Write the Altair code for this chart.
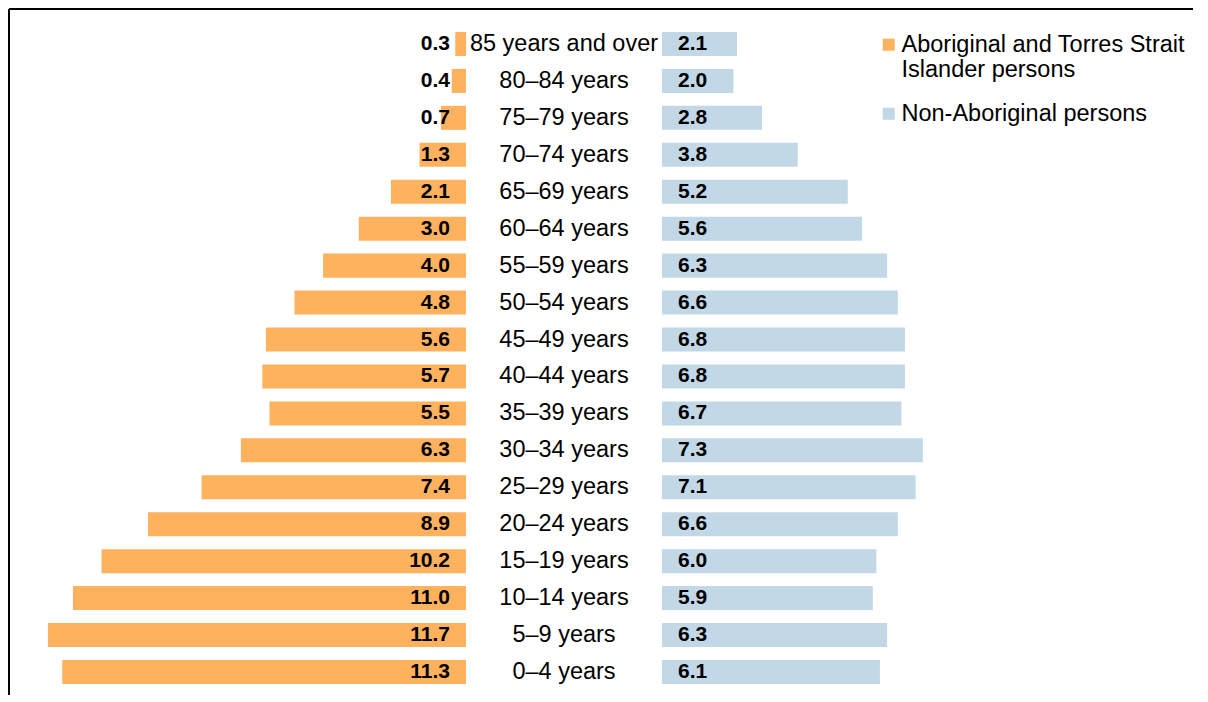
import altair as alt
import pandas as pd

ages = ["85 years and over", "80–84 years", "75–79 years", "70–74 years", "65–69 years",
        "60–64 years", "55–59 years", "50–54 years", "45–49 years", "40–44 years",
        "35–39 years", "30–34 years", "25–29 years", "20–24 years", "15–19 years",
        "10–14 years", "5–9 years", "0–4 years"]
indigenous = [0.3, 0.4, 0.7, 1.3, 2.1, 3.0, 4.0, 4.8, 5.6, 5.7, 5.5, 6.3, 7.4, 8.9, 10.2, 11.0, 11.7, 11.3]
non_indigenous = [2.1, 2.0, 2.8, 3.8, 5.2, 5.6, 6.3, 6.6, 6.8, 6.8, 6.7, 7.3, 7.1, 6.6, 6.0, 5.9, 6.3, 6.1]
groups = ["Aboriginal and Torres Strait Islander persons", "Non-Aboriginal persons"]
colors = ["#FFB25E", "#C3D8E7"]

df = pd.DataFrame({"age": ages, "indig": indigenous, "non": non_indigenous})
df["g1"] = groups[0]
df["g2"] = groups[1]
frame_df = pd.DataFrame({"k": [0]})

PX = 35.73
LW, MW, RW, H = 457, 196, 531, 686
FONT = "Liberation Sans"

yscale = alt.Scale(type="band", domain=ages, paddingInner=0.35, paddingOuter=0.46, align=0.676)
y = alt.Y("age:N", sort=ages, scale=yscale, axis=None)
color_scale = alt.Scale(domain=groups, range=colors)

legend = alt.Legend(
    orient="none", legendX=864, legendY=24, title=None,
    symbolType="square", symbolSize=144, symbolStrokeWidth=0, symbolOffset=4,
    labelFont=FONT, labelFontSize=23.5, labelLimit=0, labelColor="black",
    labelBaseline="middle", labelOffset=1, padding=0, rowPadding=19,
    labelExpr="datum.label == 'Aboriginal and Torres Strait Islander persons' ? ['Aboriginal and Torres Strait', 'Islander persons'] : datum.label",
)

def top_rule(w):
    return alt.Chart(frame_df).mark_rule(color="black", strokeWidth=2).encode(
        x=alt.value(0), x2=alt.value(w), y=alt.value(0))

xl = alt.X("indig:Q", scale=alt.Scale(domain=[0, LW / PX], reverse=True, nice=False, zero=True), axis=None)
left_bars = alt.Chart(df).mark_bar().encode(
    x=xl, y=y, color=alt.Color("g1:N", scale=color_scale, legend=legend))
left_text = alt.Chart(df).mark_text(align="right", baseline="middle", dx=-16, font=FONT,
                                    fontSize=21, fontWeight="bold", color="black").encode(
    x=alt.datum(0), y=y, text=alt.Text("indig:Q", format=".1f"))
left_line = alt.Chart(frame_df).mark_rule(color="black", strokeWidth=2).encode(
    x=alt.value(0), y=alt.value(0), y2=alt.value(H))
left = alt.layer(left_bars, left_text, top_rule(LW), left_line).properties(width=LW, height=H)

mid_text = alt.Chart(df).mark_text(align="center", baseline="middle", font=FONT,
                                   fontSize=23.5, color="black").encode(
    x=alt.value(MW / 2), y=y, text="age:N")
mid = alt.layer(mid_text, top_rule(MW)).properties(width=MW, height=H)

xr = alt.X("non:Q", scale=alt.Scale(domain=[0, RW / PX], nice=False, zero=True), axis=None)
right_bars = alt.Chart(df).mark_bar().encode(
    x=xr, y=y, color=alt.Color("g2:N", scale=color_scale, legend=legend))
right_text = alt.Chart(df).mark_text(align="left", baseline="middle", dx=16, font=FONT,
                                     fontSize=21, fontWeight="bold", color="black").encode(
    x=alt.datum(0), y=y, text=alt.Text("non:Q", format=".1f"))
right = alt.layer(right_bars, right_text, top_rule(RW)).properties(width=RW, height=H)

chart = alt.hconcat(left, mid, right, spacing=0, bounds="flush").resolve_scale(
    x="independent"
).properties(
    padding=0, background="white"
).configure_view(stroke=None)

chart.save("out.html", embed_options={"renderer": "svg", "actions": False})
